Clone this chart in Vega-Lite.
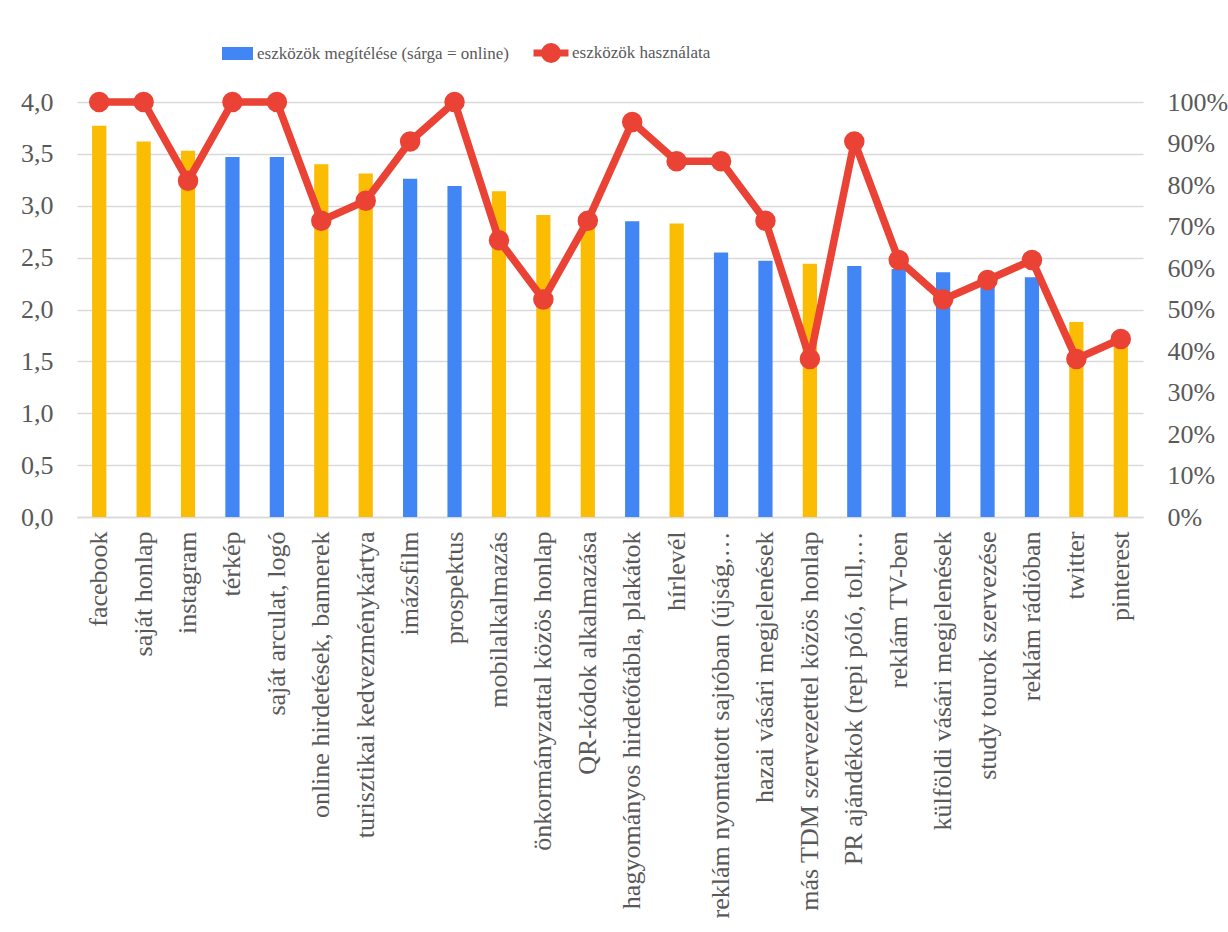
{
  "$schema": "https://vega.github.io/schema/vega-lite/v6.json",
  "autosize": {"type": "none"},
  "width": 1066,
  "height": 415,
  "padding": {"left": 77, "top": 102, "right": 85, "bottom": 415},
  "background": "white",
  "config": {
    "view": {"stroke": null},
    "font": "Liberation Serif",
    "axis": {
      "labelFont": "Liberation Serif",
      "labelFontSize": 26,
      "labelColor": "#595959",
      "ticks": false,
      "domain": false,
      "title": null,
      "gridColor": "#d9d9d9",
      "gridWidth": 1.3
    },
    "legend": {
      "labelFont": "Liberation Serif",
      "labelColor": "#595959",
      "padding": 0,
      "title": null
    }
  },
  "data": {
    "values": [
      {"eszkoz": "facebook", "online": "igen", "megiteles": 3.77, "hasznalat": 1.0},
      {"eszkoz": "saját honlap", "online": "igen", "megiteles": 3.62, "hasznalat": 1.0},
      {"eszkoz": "instagram", "online": "igen", "megiteles": 3.53, "hasznalat": 0.81},
      {"eszkoz": "térkép", "online": "nem", "megiteles": 3.47, "hasznalat": 1.0},
      {"eszkoz": "saját arculat, logó", "online": "nem", "megiteles": 3.47, "hasznalat": 1.0},
      {"eszkoz": "online hirdetések, bannerek", "online": "igen", "megiteles": 3.40, "hasznalat": 0.714},
      {"eszkoz": "turisztikai kedvezménykártya", "online": "igen", "megiteles": 3.31, "hasznalat": 0.762},
      {"eszkoz": "imázsfilm", "online": "nem", "megiteles": 3.26, "hasznalat": 0.905},
      {"eszkoz": "prospektus", "online": "nem", "megiteles": 3.19, "hasznalat": 1.0},
      {"eszkoz": "mobilalkalmazás", "online": "igen", "megiteles": 3.14, "hasznalat": 0.667},
      {"eszkoz": "önkormányzattal közös honlap", "online": "igen", "megiteles": 2.91, "hasznalat": 0.524},
      {"eszkoz": "QR-kódok alkalmazása", "online": "igen", "megiteles": 2.84, "hasznalat": 0.714},
      {"eszkoz": "hagyományos hirdetőtábla, plakátok", "online": "nem", "megiteles": 2.85, "hasznalat": 0.952},
      {"eszkoz": "hírlevél", "online": "igen", "megiteles": 2.83, "hasznalat": 0.857},
      {"eszkoz": "reklám nyomtatott sajtóban (újság,…", "online": "nem", "megiteles": 2.55, "hasznalat": 0.857},
      {"eszkoz": "hazai vásári megjelenések", "online": "nem", "megiteles": 2.47, "hasznalat": 0.714},
      {"eszkoz": "más TDM szervezettel közös honlap", "online": "igen", "megiteles": 2.44, "hasznalat": 0.381},
      {"eszkoz": "PR ajándékok (repi póló, toll,…", "online": "nem", "megiteles": 2.42, "hasznalat": 0.905},
      {"eszkoz": "reklám TV-ben", "online": "nem", "megiteles": 2.39, "hasznalat": 0.619},
      {"eszkoz": "külföldi vásári megjelenések", "online": "nem", "megiteles": 2.36, "hasznalat": 0.524},
      {"eszkoz": "study tourok szervezése", "online": "nem", "megiteles": 2.33, "hasznalat": 0.571},
      {"eszkoz": "reklám rádióban", "online": "nem", "megiteles": 2.31, "hasznalat": 0.619},
      {"eszkoz": "twitter", "online": "igen", "megiteles": 1.88, "hasznalat": 0.381},
      {"eszkoz": "pinterest", "online": "igen", "megiteles": 1.72, "hasznalat": 0.429}
    ]
  },
  "encoding": {
    "x": {
      "field": "eszkoz",
      "type": "nominal",
      "sort": null,
      "scale": {"paddingInner": 0.68, "paddingOuter": 0.34},
      "axis": {
        "labelAngle": -90,
        "labelPadding": 14,
        "labelLimit": 420,
        "domain": true,
        "domainColor": "#d9d9d9",
        "domainWidth": 1.3
      }
    }
  },
  "layer": [
    {
      "mark": {"type": "bar"},
      "encoding": {
        "y": {
          "field": "megiteles",
          "type": "quantitative",
          "scale": {"domain": [0, 4], "nice": false},
          "axis": {
            "orient": "left",
            "values": [0, 0.5, 1, 1.5, 2, 2.5, 3, 3.5, 4],
            "labelExpr": "replace(format(datum.value, '.1f'), '.', ',')",
            "labelPadding": 24,
            "grid": true
          }
        },
        "color": {
          "field": "online",
          "type": "nominal",
          "scale": {"domain": ["nem", "igen"], "range": ["#4285F4", "#FBBC04"]},
          "legend": {
            "orient": "none",
            "legendX": 145,
            "legendY": -64,
            "values": ["nem"],
            "labelExpr": "'eszközök megítélése (sárga = online)'",
            "labelFont": "Liberation Serif",
            "labelFontSize": 17,
            "labelLimit": 500,
            "symbolType": "M-1,-0.42H1V0.42H-1Z",
            "symbolSize": 961,
            "symbolStrokeWidth": 0,
            "labelOffset": 4
          }
        }
      }
    },
    {
      "encoding": {
        "y": {
          "field": "hasznalat",
          "type": "quantitative",
          "scale": {"domain": [0, 1], "nice": false},
          "axis": {
            "orient": "right",
            "values": [0, 0.1, 0.2, 0.3, 0.4, 0.5, 0.6, 0.7, 0.8, 0.9, 1],
            "format": ".0%",
            "labelPadding": 24,
            "labelAlign": "left",
            "grid": false
          }
        }
      },
      "layer": [
        {
          "mark": {"type": "line", "strokeWidth": 7.5, "strokeJoin": "round"},
          "encoding": {
            "stroke": {
              "datum": "eszközök használata",
              "scale": {"range": ["#EA4335"]},
              "legend": {
                "orient": "none",
                "legendX": 453,
                "legendY": -70,
                "labelFont": "Liberation Serif",
                "labelFontSize": 17,
                "labelLimit": 500,
                "symbolType": "M-1,0H1M0.37,0A0.37,0.37,0,1,1,-0.37,0A0.37,0.37,0,1,1,0.37,0Z",
                "symbolSize": 1225,
                "symbolStrokeWidth": 7,
                "symbolFillColor": "#EA4335",
                "labelOffset": 0
              }
            }
          }
        },
        {
          "mark": {"type": "point", "filled": true, "shape": "circle", "size": 420, "opacity": 1, "color": "#EA4335"}
        }
      ]
    }
  ],
  "resolve": {"scale": {"y": "independent"}}
}
